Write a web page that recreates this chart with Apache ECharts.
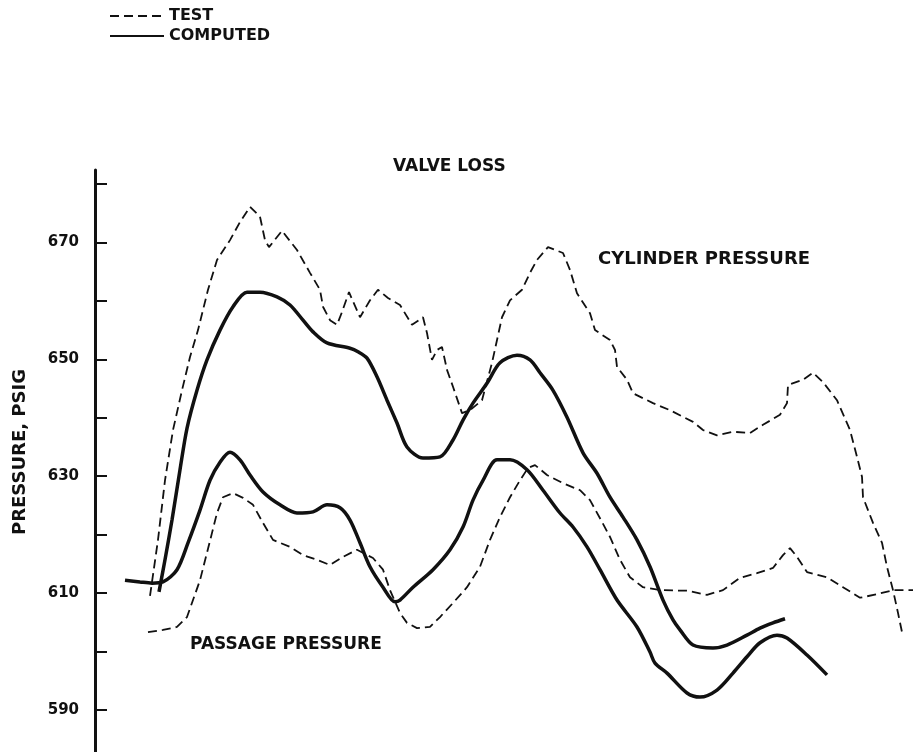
<!DOCTYPE html>
<html>
<head>
<meta charset="utf-8">
<script src="https://cdn.jsdelivr.net/npm/echarts@6/dist/echarts.min.js"></script>
<style>html,body{margin:0;padding:0;background:#fff;}#c{width:918px;height:752px;}</style>
</head>
<body>
<div id="c"></div>
<script>
// x: arbitrary position along the cycle, y: pressure, psig
var cylinderTest = [[5.5,609.5],[6.3,619.1],[7.0,629.3],[7.8,637.9],[8.7,644.7],[9.5,650.4],[10.3,655.0],[11.3,661.9],[12.2,667.0],[13.5,670.4],[14.5,673.5],[15.5,676.1],[16.5,674.4],[17.0,670.4],[17.4,669.2],[18.7,672.0],[20.2,668.7],[21.5,664.8],[22.5,661.9],[22.8,659.0],[23.5,656.7],[24.2,655.9],[24.7,658.1],[25.4,661.5],[26.5,657.2],[27.5,660.1],[28.3,661.9],[29.3,660.5],[30.5,659.3],[31.7,655.9],[32.8,657.2],[33.2,654.5],[33.7,649.9],[34.2,651.6],[34.7,652.1],[35.2,648.2],[35.8,645.3],[36.7,640.8],[37.5,641.3],[38.7,643.0],[39.7,649.4],[40.7,657.2],[41.5,660.1],[42.7,661.9],[43.5,664.8],[44.2,667.0],[45.3,669.2],[46.8,668.2],[47.5,665.3],[48.2,661.3],[49.5,657.9],[50.0,655.0],[51.5,653.3],[52.0,651.6],[52.2,648.7],[53.2,646.5],[53.8,644.2],[55.8,642.5],[57.5,641.3],[59.8,639.3],[60.8,637.9],[62.2,637.0],[63.8,637.6],[65.5,637.4],[66.8,638.8],[68.5,640.5],[69.2,642.5],[69.3,645.6],[70.8,646.5],[71.8,647.7],[72.8,646.1],[74.2,643.0],[75.5,637.9],[76.2,633.3],[76.7,629.9],[76.8,626.4],[77.8,622.0],[78.7,618.6],[79.2,614.5],[79.8,610.5],[80.3,606.6],[80.7,603.3]];
var cylinderComputed = [[6.4,610.2],[7.0,615.7],[7.7,622.5],[8.5,631.1],[9.2,638.2],[10.2,644.7],[11.2,649.9],[12.5,655.0],[13.8,659.0],[15.2,661.5],[16.5,661.5],[18.2,660.7],[19.5,659.3],[20.8,656.7],[21.8,654.7],[23.2,652.8],[25.5,651.9],[26.3,651.3],[27.2,650.2],[28.2,647.0],[29.2,643.0],[30.2,639.1],[31.2,635.0],[32.8,633.1],[34.5,633.3],[35.8,636.2],[36.8,639.6],[37.8,642.5],[39.2,645.9],[40.5,649.4],[42.2,650.7],[43.5,649.9],[44.5,647.7],[45.8,644.7],[47.2,640.1],[48.8,634.0],[50.2,630.5],[51.5,626.4],[52.8,623.0],[54.2,619.1],[55.5,614.5],[56.8,608.8],[57.8,605.4],[58.5,603.7],[59.8,601.1],[61.8,600.6],[63.2,601.1],[65.2,602.8],[66.5,604.0],[67.8,604.9],[69.0,605.6]];
var passageTest = [[5.3,603.3],[6.8,603.7],[8.2,604.2],[9.2,605.9],[9.8,608.8],[10.5,612.2],[11.2,616.9],[11.7,620.3],[12.2,623.7],[12.8,626.4],[13.8,627.1],[14.8,626.3],[15.8,625.1],[16.8,622.0],[17.8,619.1],[19.5,617.9],[20.8,616.5],[22.2,615.7],[23.5,614.8],[24.8,616.2],[26.2,617.4],[27.8,616.0],[28.8,614.0],[29.5,610.5],[30.5,606.6],[31.2,604.9],[32.2,604.0],[33.5,604.2],[34.5,605.9],[35.8,608.3],[37.2,611.0],[38.5,614.5],[39.5,619.1],[40.5,623.0],[41.5,626.4],[42.5,629.3],[43.3,631.4],[44.0,631.9],[45.2,630.2],[46.8,628.8],[48.5,627.6],[49.5,625.9],[50.5,622.8],[51.5,619.6],[52.5,615.7],[53.5,612.7],[54.8,611.0],[56.5,610.5],[59.2,610.4],[61.2,609.7],[62.8,610.5],[64.5,612.6],[66.2,613.4],[67.8,614.3],[68.8,616.5],[69.5,617.7],[70.2,616.2],[71.2,613.6],[73.2,612.7],[74.8,611.0],[76.5,609.2],[78.2,609.8],[79.8,610.5],[81.8,610.5]];
var passageComputed = [[3.0,612.2],[4.5,611.9],[5.7,611.7],[6.8,611.9],[8.2,614.0],[9.3,618.6],[10.5,624.2],[11.5,629.3],[12.5,632.4],[13.5,634.1],[14.5,632.8],[15.5,630.2],[16.8,627.3],[18.5,625.1],[20.2,623.7],[21.8,623.9],[23.2,625.1],[24.5,624.6],[25.5,622.5],[26.5,618.6],[27.5,614.5],[28.8,611.0],[30.0,608.5],[30.5,608.8],[31.8,611.0],[33.8,614.0],[35.5,617.4],[36.8,621.3],[37.8,625.9],[38.8,629.3],[40.2,632.8],[41.5,632.8],[43.2,631.1],[44.8,627.6],[46.5,623.7],[47.8,621.3],[49.2,617.9],[50.5,614.0],[52.2,608.8],[54.2,604.2],[55.5,599.9],[56.0,598.0],[57.2,596.3],[59.2,592.9],[60.5,592.2],[62.2,593.4],[63.8,596.3],[65.2,599.1],[66.5,601.5],[68.2,602.8],[69.2,602.3],[71.2,599.4],[73.2,596.0]];
var yTickValues = [590,600,610,620,630,640,650,660,670,680];
var yLabelValues = [590,610,630,650,670];
var legendNames = ['TEST','COMPUTED'];

var FONT = 'DejaVu Sans';
var chart = echarts.init(document.getElementById('c'), null, {renderer:'canvas'});
var testStyle = {color:'#111', width:1.8, type:[9,5]};
var compStyle = {color:'#111', width:3.5, type:'solid'};
chart.setOption({
  animation:false,
  backgroundColor:'#fff',
  title:{text:'VALVE LOSS', left:388, top:153, textStyle:{fontFamily:FONT, fontWeight:'bold', fontSize:17, color:'#111'}},
  legend:{data:legendNames, orient:'vertical', left:104, top:3, itemWidth:54, itemHeight:14, itemGap:4,
    itemStyle:{opacity:0},
    textStyle:{fontFamily:FONT, fontWeight:'bold', fontSize:16, color:'#111'}},
  grid:{left:95, right:3, top:170, bottom:0},
  xAxis:{type:'value', min:0, max:82, show:false},
  yAxis:{type:'value', min:582.8, max:682.4,
    name:'PRESSURE, PSIG', nameLocation:'middle', nameRotate:90, nameGap:66,
    nameTextStyle:{fontFamily:FONT, fontWeight:'bold', fontSize:18, color:'#111', padding:[0,0,0,18]},
    axisLine:{show:true, lineStyle:{color:'#111', width:3}},
    axisTick:{show:true, inside:true, length:12, lineStyle:{color:'#111', width:2}, customValues:yTickValues},
    axisLabel:{show:true, margin:16, fontFamily:FONT, fontWeight:'bold', fontSize:15, color:'#111', customValues:yLabelValues},
    splitLine:{show:false}
  },
  graphic:[
    {type:'text', left:598, top:250, style:{text:'CYLINDER PRESSURE', font:'bold 18px "DejaVu Sans"', fill:'#111'}},
    {type:'text', left:190, top:636, style:{text:'PASSAGE PRESSURE', font:'bold 17px "DejaVu Sans"', fill:'#111'}}
  ],
  series:[
    {name:'TEST', type:'line', data:cylinderTest, symbol:'none', lineStyle:testStyle, itemStyle:{color:'#111'}},
    {name:'TEST', type:'line', data:passageTest, symbol:'none', lineStyle:testStyle, itemStyle:{color:'#111'}},
    {name:'COMPUTED', type:'line', data:cylinderComputed, symbol:'none', smooth:0.3, lineStyle:compStyle, itemStyle:{color:'#111'}},
    {name:'COMPUTED', type:'line', data:passageComputed, symbol:'none', smooth:0.3, lineStyle:compStyle, itemStyle:{color:'#111'}}
  ]
});
</script>
</body>
</html>
